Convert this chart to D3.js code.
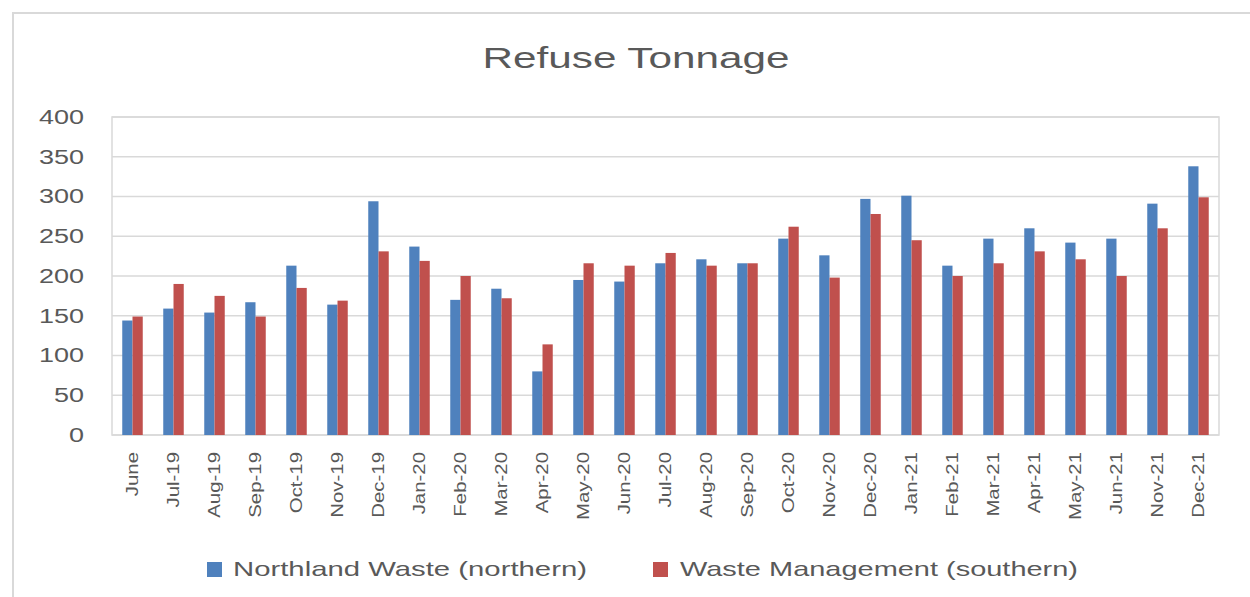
<!DOCTYPE html>
<html lang="en">
<head>
  <meta charset="UTF-8">
  <title>Refuse Tonnage</title>
  <script src="https://d3js.org/d3.v7.min.js"></script>
  <style type="text/css">
    body {
      margin: 0;
      background: #fff;
    }
    text {
      font-family: 'Liberation Sans', Arial, sans-serif;
      fill: #595959;
    }
  </style>
</head>
<body>
<div id="chart"></div>
<script>
  // data
  var months = ['June', 'Jul-19', 'Aug-19', 'Sep-19', 'Oct-19', 'Nov-19', 'Dec-19',
    'Jan-20', 'Feb-20', 'Mar-20', 'Apr-20', 'May-20', 'Jun-20', 'Jul-20', 'Aug-20',
    'Sep-20', 'Oct-20', 'Nov-20', 'Dec-20', 'Jan-21', 'Feb-21', 'Mar-21', 'Apr-21',
    'May-21', 'Jun-21', 'Nov-21', 'Dec-21'];
  var northern = [144, 159, 154, 167, 213, 164, 294, 237, 170, 184, 80, 195, 193, 216,
    221, 216, 247, 226, 297, 301, 213, 247, 260, 242, 247, 291, 338];
  var southern = [149, 190, 175, 149, 185, 169, 231, 219, 200, 172, 114, 216, 213, 229,
    213, 216, 262, 198, 278, 245, 200, 216, 231, 221, 200, 260, 299];
  var seriesNames = ['Northland Waste (northern)', 'Waste Management (southern)'];
  var seriesColors = ['#4f81bd', '#c0504d'];
  var yTicks = [0, 50, 100, 150, 200, 250, 300, 350, 400];

  var WIDTH = 1250,
    HEIGHT = 597,
    PLOT = {left: 112, right: 1219, top: 117, bottom: 435};

  var svg = d3.select('#chart')
    .append('svg')
    .attr('width', WIDTH)
    .attr('height', HEIGHT);

  // outer chart border
  svg.append('rect')
    .attr('x', 13)
    .attr('y', 13)
    .attr('width', WIDTH + 20)
    .attr('height', HEIGHT + 20)
    .attr('fill', 'none')
    .attr('stroke', '#d9d9d9')
    .attr('stroke-width', 2);

  // title
  svg.append('text')
    .attr('x', 636)
    .attr('y', 68)
    .attr('text-anchor', 'middle')
    .style('font-size', '30px')
    .attr('textLength', 307)
    .attr('lengthAdjust', 'spacingAndGlyphs')
    .text('Refuse Tonnage');

  var xScale = d3.scaleBand()
    .domain(months)
    .range([PLOT.left, PLOT.right])
    .paddingInner(0.5)
    .paddingOuter(0.25);
  var subScale = d3.scaleBand()
    .domain([0, 1])
    .range([0, xScale.bandwidth()]);
  var yScale = d3.scaleLinear()
    .domain([0, 400])
    .range([PLOT.bottom, PLOT.top]);

  // gridlines
  svg.append('g')
    .selectAll('line')
    .data(yTicks)
    .enter()
    .append('line')
    .attr('x1', PLOT.left)
    .attr('x2', PLOT.right)
    .attr('y1', function (d) { return yScale(d); })
    .attr('y2', function (d) { return yScale(d); })
    .attr('stroke', '#d9d9d9')
    .attr('stroke-width', 1.5);

  // plot area frame
  svg.append('rect')
    .attr('x', PLOT.left)
    .attr('y', PLOT.top)
    .attr('width', PLOT.right - PLOT.left)
    .attr('height', PLOT.bottom - PLOT.top)
    .attr('fill', 'none')
    .attr('stroke', '#d9d9d9')
    .attr('stroke-width', 1.5);

  // y axis labels
  var yAxis = svg.append('g')
    .attr('transform', 'translate(84,0)')
    .call(d3.axisLeft(yScale).tickValues(yTicks).tickSize(0).tickPadding(0));
  yAxis.select('.domain').remove();
  yAxis.selectAll('text')
    .style('font-size', '20px')
    .attr('fill', '#595959')
    .attr('textLength', function () { return this.getComputedTextLength() * 1.35; })
    .attr('lengthAdjust', 'spacingAndGlyphs');

  // bars
  var data = [northern, southern];
  var groups = svg.append('g')
    .selectAll('g')
    .data(data)
    .enter()
    .append('g')
    .attr('fill', function (d, i) { return seriesColors[i]; });
  groups.each(function (vals, s) {
    d3.select(this).selectAll('rect')
      .data(vals)
      .enter()
      .append('rect')
      .attr('x', function (d, i) { return xScale(months[i]) + subScale(s); })
      .attr('width', subScale.bandwidth())
      .attr('y', function (d) { return yScale(d); })
      .attr('height', function (d) { return yScale(0) - yScale(d); });
  });

  // x axis labels, rotated
  var xAxis = svg.append('g')
    .attr('transform', 'translate(0,' + PLOT.bottom + ')')
    .call(d3.axisBottom(xScale).tickSize(0).tickPadding(0));
  xAxis.select('.domain').remove();
  xAxis.selectAll('text')
    .style('font-size', '17px')
    .attr('fill', '#595959')
    .attr('text-anchor', 'end')
    .attr('dy', '0.35em')
    .attr('transform', 'translate(0,17) rotate(-90)')
    .attr('textLength', function () { return this.getComputedTextLength() * 1.2; })
    .attr('lengthAdjust', 'spacingAndGlyphs');

  // legend
  var legendX = [207, 653],
    legendLen = [354, 398];
  var legend = svg.append('g')
    .selectAll('g')
    .data(seriesNames)
    .enter()
    .append('g')
    .attr('transform', function (d, i) { return 'translate(' + legendX[i] + ',0)'; });
  legend.append('rect')
    .attr('x', 0)
    .attr('y', 562)
    .attr('width', 15)
    .attr('height', 15)
    .attr('fill', function (d, i) { return seriesColors[i]; });
  legend.append('text')
    .attr('x', function (d, i) { return i === 0 ? 26 : 27; })
    .attr('y', 576)
    .style('font-size', '21px')
    .attr('textLength', function (d, i) { return legendLen[i]; })
    .attr('lengthAdjust', 'spacingAndGlyphs')
    .text(function (d) { return d; });
</script>
</body>
</html>
